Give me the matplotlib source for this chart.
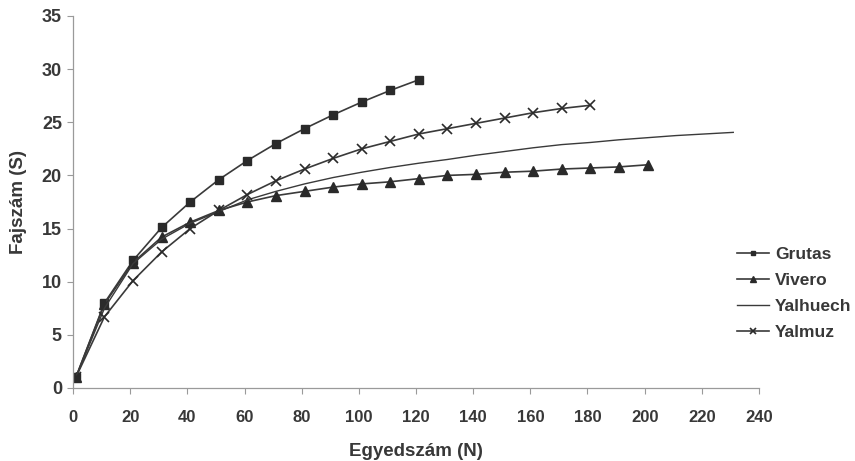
import matplotlib
matplotlib.use("Agg")
import matplotlib.pyplot as plt

plt.rcParams['font.family'] = ['Liberation Sans', 'DejaVu Sans']

# Rarefaction curves: number of species (S) vs number of individuals (N)
n_grutas = [1, 11, 21, 31, 41, 51, 61, 71, 81, 91, 101, 111, 121]
s_grutas = [1, 8.0, 12.0, 15.1, 17.5, 19.6, 21.4, 23.0, 24.4, 25.7, 26.9, 28.0, 29.0]

n_vivero = [1, 11, 21, 31, 41, 51, 61, 71, 81, 91, 101, 111, 121, 131, 141,
            151, 161, 171, 181, 191, 201]
s_vivero = [1, 7.9, 11.8, 14.2, 15.6, 16.7, 17.5, 18.1, 18.5, 18.9, 19.2,
            19.4, 19.7, 20.0, 20.1, 20.3, 20.4, 20.6, 20.7, 20.8, 21.0]

n_yalhuech = [1, 11, 21, 31, 41, 51, 61, 71, 81, 91, 101, 111, 121, 131, 141,
              151, 161, 171, 181, 191, 201, 211, 221, 231]
s_yalhuech = [1, 7.5, 11.7, 14.0, 15.5, 16.6, 17.7, 18.5, 19.2, 19.8, 20.3,
              20.75, 21.15, 21.5, 21.9, 22.25, 22.6, 22.9, 23.1, 23.35, 23.55,
              23.75, 23.9, 24.05]

n_yalmuz = [1, 11, 21, 31, 41, 51, 61, 71, 81, 91, 101, 111, 121, 131, 141,
            151, 161, 171, 181]
s_yalmuz = [1, 6.7, 10.1, 12.8, 15.0, 16.7, 18.2, 19.5, 20.6, 21.6, 22.5,
            23.2, 23.9, 24.4, 24.9, 25.4, 25.9, 26.3, 26.6]

x_ticks = [0, 20, 40, 60, 80, 100, 120, 140, 160, 180, 200, 220, 240]
y_ticks = [0, 5, 10, 15, 20, 25, 30, 35]

line_color = '#3a3a3a'
text_color = '#383838'
spine_color = '#9a9a9a'

fig = plt.figure(figsize=(8.55, 4.61), dpi=100)
ax = fig.add_axes([0.0854, 0.1584, 0.8023, 0.8069])

ax.plot(n_grutas, s_grutas, color=line_color, lw=1.2, marker='s', ms=6,
        mfc='#2a2a2a', mec='#2a2a2a', label='Grutas')
ax.plot(n_vivero, s_vivero, color=line_color, lw=1.2, marker='^', ms=7,
        mfc='#2a2a2a', mec='#2a2a2a', label='Vivero')
ax.plot(n_yalhuech, s_yalhuech, color=line_color, lw=1.0, label='Yalhuech')
ax.plot(n_yalmuz, s_yalmuz, color=line_color, lw=1.2, marker='x', ms=6.5,
        mew=1.2, mec='#2a2a2a', label='Yalmuz')

ax.set_xlim(0, 240)
ax.set_ylim(0, 35)
ax.set_xticks(x_ticks)
ax.set_yticks(y_ticks)
ax.tick_params(axis='both', direction='out', length=4, width=0.8,
               color=spine_color, labelcolor=text_color)
ax.tick_params(axis='x', labelsize=12, pad=12)
ax.tick_params(axis='y', labelsize=13, pad=4)
for lbl in ax.get_xticklabels() + ax.get_yticklabels():
    lbl.set_fontweight('bold')

for side in ('top', 'right'):
    ax.spines[side].set_visible(False)
for side in ('left', 'bottom'):
    ax.spines[side].set_color(spine_color)
    ax.spines[side].set_linewidth(0.9)

ax.set_xlabel('Egyedszám (N)', fontsize=13.5, fontweight='bold',
              color=text_color, labelpad=13)
ax.set_ylabel('Fajszám (S)', fontsize=13.5, fontweight='bold',
              color=text_color, labelpad=11)

leg = fig.legend(loc='center left', bbox_to_anchor=(0.862, 0.364),
                 frameon=False, borderpad=0, borderaxespad=0,
                 handlelength=1.85, handletextpad=0.35, labelspacing=0.62,
                 markerscale=0.6, prop={'size': 12.5, 'weight': 'bold'})
for t in leg.get_texts():
    t.set_color(text_color)

fig.savefig('out.png', dpi=100, facecolor='white')
